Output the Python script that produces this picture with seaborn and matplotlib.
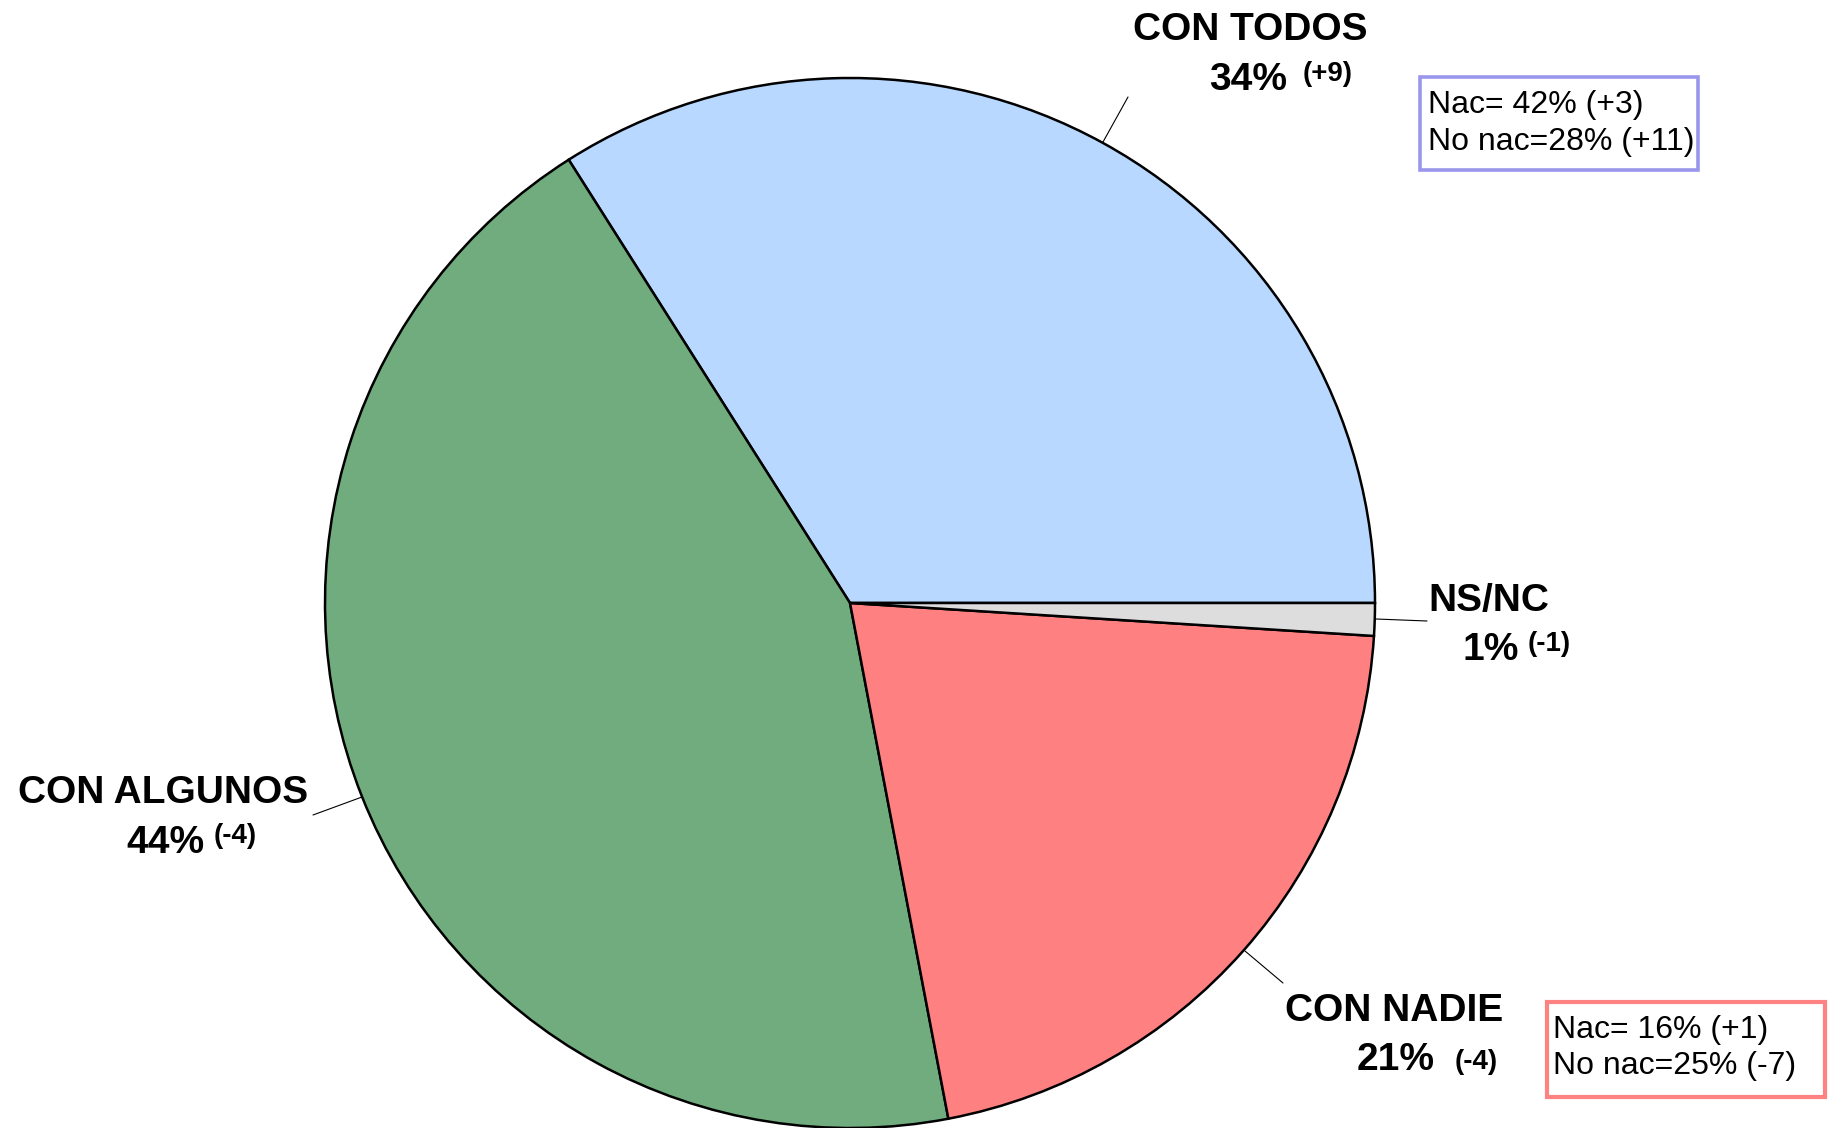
import matplotlib
matplotlib.use("Agg")
import matplotlib.pyplot as plt
import seaborn as sns
from matplotlib.patches import Rectangle

# ---- data ----
categories = ["CON TODOS", "CON ALGUNOS", "CON NADIE", "NS/NC"]
values = [34, 44, 21, 1]
changes = ["(+9)", "(-4)", "(-4)", "(-1)"]
colors = ["#B8D8FF", "#71AC7E", "#FF8080", "#DDDDDD"]
box_todos = ["Nac= 42% (+3)", "No nac=28% (+11)"]
box_nadie = ["Nac= 16% (+1)", "No nac=25% (-7)"]

sns.set_theme(style="white")
plt.rcParams["font.family"] = ["Liberation Sans", "DejaVu Sans"]

W, H = 1833, 1128
fig = plt.figure(figsize=(W / 100, H / 100), dpi=100)
ax = fig.add_axes([0, 0, 1, 1])

ax.pie(values, colors=colors, startangle=0, counterclock=True,
       center=(850, H - 603), radius=525,
       wedgeprops=dict(edgecolor="black", linewidth=1.8))
ax.set_xlim(0, W)
ax.set_ylim(0, H)
ax.set_aspect("equal")
ax.axis("off")

def Y(y):
    return H - y

# layout: (name center x, name baseline, pct left x, pct baseline, change left x, change baseline)
layout = {
    "CON TODOS": (1250, 40, 1209, 90, 1303, 81),
    "CON ALGUNOS": (163, 803, 126, 853, 214, 843),
    "CON NADIE": (1394, 1021, 1357, 1070, 1455, 1069),
    "NS/NC": (1489, 611, 1463, 660, 1528, 651),
}
leaders = {
    "CON TODOS": ((1103, 142), (1128, 97)),
    "CON ALGUNOS": ((362, 797), (313, 815)),
    "CON NADIE": ((1245, 951), (1283, 983)),
    "NS/NC": ((1376, 619), (1427, 621)),
}

for cat, val, chg in zip(categories, values, changes):
    nx, nb, px, pb, cx, cb = layout[cat]
    ax.text(nx, Y(nb), cat, ha="center", va="baseline", fontsize=28,
            fontweight="bold", color="black")
    ax.text(px, Y(pb), f"{val}%", ha="left", va="baseline", fontsize=28,
            fontweight="bold", color="black")
    ax.text(cx, Y(cb), chg, ha="left", va="baseline", fontsize=20,
            fontweight="bold", color="black")
    (x0, y0), (x1, y1) = leaders[cat]
    ax.plot([x0, x1], [Y(y0), Y(y1)], color="black", lw=0.8)

# boxes
ax.add_patch(Rectangle((1420, Y(170)), 278, 93, facecolor="white",
                       edgecolor="#9A96EC", lw=2.6, zorder=3))
for line, b in zip(box_todos, [113, 150]):
    ax.text(1428, Y(b), line, ha="left", va="baseline", fontsize=23,
            color="black", zorder=4)

ax.add_patch(Rectangle((1547, Y(1097)), 278, 95, facecolor="white",
                       edgecolor="#FF8282", lw=3, zorder=3))
for line, b in zip(box_nadie, [1038, 1074]):
    ax.text(1553, Y(b), line, ha="left", va="baseline", fontsize=23,
            color="black", zorder=4)

fig.savefig("out.png", dpi=100, facecolor="white")
